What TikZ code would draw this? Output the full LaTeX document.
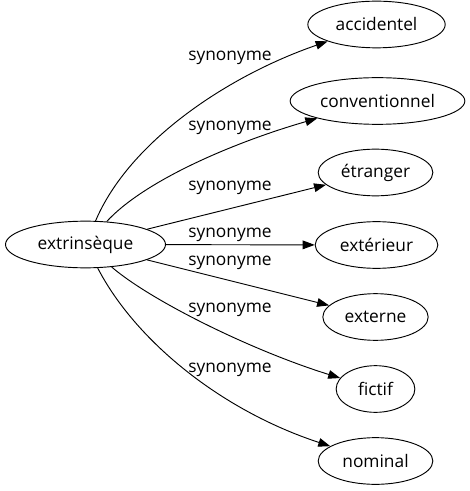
\documentclass[tikz,border=0pt]{standalone}
\usepackage{fontspec}
\setmainfont{Open Sans}
\usepackage{tikz}
\usetikzlibrary{arrows.meta}
\usetikzlibrary{shapes.geometric}
\tikzset{
    wordnode/.style={shape=ellipse, draw=black, line width=0.7pt, inner sep=0pt, minimum height=35pt, font=\fontsize{13pt}{15pt}\selectfont},
    synlabel/.style={font=\fontsize{13pt}{15pt}\selectfont, inner sep=0pt},
    synarrow/.style={-{Triangle[length=9pt,width=6.5pt]}, line width=0.7pt}
}

\begin{document}
\begin{tikzpicture}[x=0.75pt, y=-0.75pt]
    \useasboundingbox (0,0) rectangle (469,491);

    \node[wordnode, minimum width=120pt] (ext) at (85.5,244.5) {extrinsèque};

    \node[wordnode, minimum width=103pt] (acc) at (376.5,24.5) {accidentel};
    \node[wordnode, minimum width=131pt] (conv) at (377.5,101) {conventionnel};
    \node[wordnode, minimum width=86pt] (etr) at (375.5,172.5) {étranger};
    \node[wordnode, minimum width=92pt] (exter) at (376.5,245) {extérieur};
    \node[wordnode, minimum width=79pt] (extn) at (375.5,317) {externe};
    \node[wordnode, minimum width=59pt] (fic) at (375.5,389) {fictif};
    \node[wordnode, minimum width=86pt] (nom) at (375.5,461) {nominal};

    \draw [synarrow] (ext) .. controls (130,140) and (230,75) .. (acc);
    \draw [synarrow] (ext) .. controls (145,180) and (235,142) .. (conv);
    \draw [synarrow] (ext) -- (etr);
    \draw [synarrow] (ext) -- (exter);
    \draw [synarrow] (ext) -- (extn);
    \draw [synarrow] (ext) .. controls (150,300) and (250,350) .. (fic);
    \draw [synarrow] (ext) .. controls (135,340) and (220,410) .. (nom);

    \node[synlabel] (l1) at (230,58) {synonyme};
    \node[synlabel] (l2) at (230,128) {synonyme};
    \node[synlabel] (l3) at (230,188) {synonyme};
    \node[synlabel] (l4) at (230,235) {synonyme};
    \node[synlabel] (l5) at (230,263) {synonyme};
    \node[synlabel] (l6) at (230,310) {synonyme};
    \node[synlabel] (l7) at (230,370) {synonyme};
\end{tikzpicture}
\end{document}
